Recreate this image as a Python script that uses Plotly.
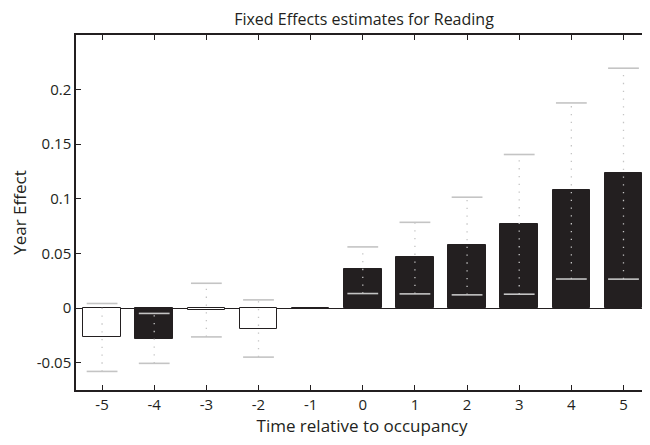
import plotly.graph_objects as go

# ---- data ----
periods = [-5, -4, -3, -2, -1, 0, 1, 2, 3, 4, 5]
estimates = [-0.0264, -0.0282, -0.0015, -0.0188, 0.0, 0.0355, 0.0464, 0.0573, 0.0773, 0.1078, 0.1236]
ci_lower = [-0.0580, -0.0506, -0.0264, -0.0449, 0.0, 0.0133, 0.0130, 0.0121, 0.0127, 0.0266, 0.0265]
ci_upper = [0.0042, -0.0049, 0.0227, 0.0075, 0.0, 0.0560, 0.0785, 0.1015, 0.1406, 0.1878, 0.2196]
x_tick_labels = ["-5", "-4", "-3", "-2", "-1", "0", "1", "2", "3", "4", "5"]
y_tick_vals = [-0.05, 0, 0.05, 0.1, 0.15, 0.2]
y_tick_labels = ["-0.05", "0", "0.05", "0.1", "0.15", "0.2"]

DARK = "#231f20"
GREY = "#c4c4c4"
FONT = "Open Sans"

# significant if CI excludes zero -> black bar
bar_colors = []
for i, e in enumerate(estimates):
    sig = (ci_lower[i] > 0 or ci_upper[i] < 0)
    bar_colors.append(DARK if sig else "white")

fig = go.Figure()
fig.add_trace(go.Bar(
    x=periods, y=estimates, width=0.72,
    marker=dict(color=bar_colors, line=dict(color=DARK, width=1)),
    showlegend=False, hoverinfo="skip",
))

# dotted CI lines (skip reference period with zero-width CI)
vx, vy = [], []
for p, lo, hi in zip(periods, ci_lower, ci_upper):
    if hi - lo > 0:
        vx += [p, p, None]
        vy += [lo, hi, None]
fig.add_trace(go.Scatter(
    x=vx, y=vy, mode="lines",
    line=dict(color=GREY, width=1.3, dash="1.3px,6.5px"),
    showlegend=False, hoverinfo="skip",
))

# caps
cx, cy = [], []
for p, lo, hi in zip(periods, ci_lower, ci_upper):
    if hi - lo > 0:
        cx += [p, p]
        cy += [lo, hi]
fig.add_trace(go.Scatter(
    x=cx, y=cy, mode="markers",
    marker=dict(symbol="line-ew-open", size=22, color=GREY, line=dict(color=GREY, width=1.6)),
    showlegend=False, hoverinfo="skip",
))

W, H = 642, 437  # page body has an 8px margin
fig.update_layout(
    width=W, height=H,
    margin=dict(l=68, r=0, t=27, b=55),
    plot_bgcolor="white", paper_bgcolor="white",
    font=dict(family=FONT, color="#231f20", size=15),
    bargap=0,
    title=dict(text="Fixed Effects estimates for Reading", x=356 / W, xanchor="center",
               y=1 - 11 / H, yanchor="middle",
               font=dict(size=16, family=FONT)),
)
fig.update_xaxes(
    range=[-5.5, 5.47], tickmode="array", tickvals=periods, ticktext=x_tick_labels,
    ticks="inside", ticklen=5, tickcolor=DARK, tickwidth=1,
    showline=True, linecolor=DARK, linewidth=1.5, mirror="ticks",
    showgrid=False, zeroline=False,
    title=dict(text="Time relative to occupancy", font=dict(size=17), standoff=2),
    tickfont=dict(size=15),
)
fig.update_yaxes(
    range=[-0.075, 0.25], tickmode="array", tickvals=y_tick_vals, ticktext=y_tick_labels,
    ticks="inside", ticklen=5, tickcolor=DARK, tickwidth=1,
    showline=True, linecolor=DARK, linewidth=1.5, mirror="ticks",
    showgrid=False, zeroline=True, zerolinecolor=DARK, zerolinewidth=1,
    title=dict(text="Year Effect", font=dict(size=17), standoff=9),
    tickfont=dict(size=15),
)

fig.write_html("out.html")
